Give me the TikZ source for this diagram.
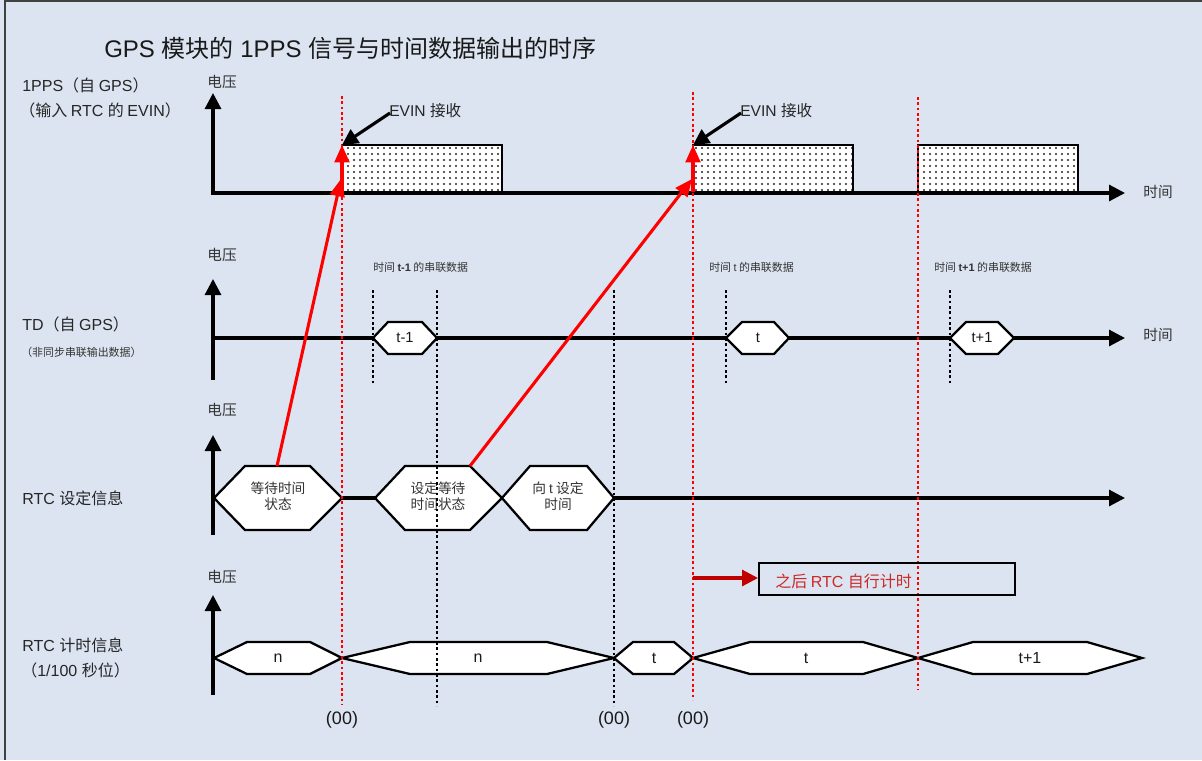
\documentclass[tikz,border=0pt]{standalone}
\usepackage{fontspec}
\setmainfont{Liberation Sans}
\newfontfamily\cjk{Noto Sans CJK SC}
\usetikzlibrary{arrows.meta,patterns.meta}
\definecolor{bg}{RGB}{219,228,240}
\definecolor{darkred}{RGB}{192,0,0}
\definecolor{txtred}{RGB}{205,40,40}
\newcommand{\zh}[1]{{\cjk #1}}
\newcommand{\fs}[2]{\fontsize{#1}{#2}\selectfont}
\newcommand{\hexg}[6]{\draw[hexs] (#1,#5) -- (#2,{#5-#6}) -- (#3,{#5-#6}) -- (#4,#5) -- (#3,{#5+#6}) -- (#2,{#5+#6}) -- cycle;}
\begin{document}
\begin{tikzpicture}[x=0.75pt,y=-0.75pt,
  tip/.style={-{Triangle[width=12pt,length=12pt]}},
  axisl/.style={line width=2.3pt,black},
  hexs/.style={line width=1.7pt,black,fill=white,line join=miter},
  reddot/.style={red,line width=2.2pt,dash pattern=on 2pt off 2pt},
  blkdot/.style={black,line width=2.2pt,dash pattern=on 2pt off 2pt},
  redarr/.style={red,line width=2.3pt,-{Triangle[width=11pt,length=13pt]}},
  blkarr/.style={black,line width=2.3pt,-{Triangle[width=12pt,length=12pt]}},
  lab/.style={anchor=west,inner sep=0pt,text=black!85,font=\fs{12}{14}},
  volt/.style={inner sep=0pt,text=black!80,font=\fs{11}{13}\cjk},
  small/.style={anchor=west,inner sep=0pt,text=black!80,font=\fs{8.2}{10}},
  htxt/.style={inner sep=0pt,text=black!80,align=center,font=\fs{10.3}{12}},
  ctxt/.style={inner sep=0pt,text=black!90,font=\fs{12}{14}},
]
\fill[bg] (0,0) rectangle (1202,760);
\useasboundingbox (0,0) rectangle (1202,760);
\draw[line width=1.5pt,black!75] (5,760) -- (5,1) -- (1202,1);

% title
\node[anchor=west,inner sep=0pt,text=black!90,font=\fs{18}{21}] (title) at (104,48)
  {GPS \zh{模块的} 1PPS \zh{信号与时间数据输出的时序}};

% left labels
\node[lab] (l1a) at (22,85) {1PPS\zh{（自 }GPS\zh{）}};
\node[lab] (l1b) at (19,110) {\zh{（输入 }RTC \zh{的 }EVIN\zh{）}};
\node[lab] (l2a) at (22,324) {TD\zh{（自 }GPS\zh{）}};
\node[small] (l2b) at (21,352) {\zh{（非同步串联输出数据）}};
\node[lab] (l3a) at (22,498) {RTC \zh{设定信息}};
\node[lab] (l4a) at (22,645) {RTC \zh{计时信息}};
\node[lab] (l4b) at (21,670) {\zh{（}1/100 \zh{秒位）}};

% voltage labels
\node[volt] (v1) at (222,82) {电压};
\node[volt] (v2) at (222,255) {电压};
\node[volt] (v3) at (222,410) {电压};
\node[volt] (v4) at (222,577) {电压};

% ---- panel 1: 1PPS
\foreach \a/\b in {342/502, 693/853, 918/1078}{
  \fill[white] (\a,145) rectangle (\b,193);
  \fill[pattern={Dots[distance=4.5pt,radius=0.9pt]},pattern color=black!85] (\a,145) rectangle (\b,193);
}
\draw[axisl,{Triangle[width=12pt,length=12pt]}-{Triangle[width=12pt,length=12pt]}] (213,93) -- (213,193) -- (1125,193);
\foreach \a/\b in {342/502, 693/853, 918/1078}{
  \draw[line width=1.7pt] (\a,193) -- (\a,145) -- (\b,145) -- (\b,193);
}
\node[anchor=center,inner sep=0pt,text=black!80,font=\fs{11}{13}\cjk] (tm1) at (1158,192) {时间};

% ---- panel 2: TD
\draw[axisl,tip] (213,380) -- (213,279);
\draw[axisl,tip] (213,338) -- (1125,338);
\node[anchor=center,inner sep=0pt,text=black!80,font=\fs{11}{13}\cjk] (tm2) at (1158,335) {时间};
\node[small] (s1) at (373,267) {\zh{时间 }\textbf{t-1}\zh{ 的串联数据}};
\node[small] (s2) at (709,267) {\zh{时间 }t\zh{ 的串联数据}};
\node[small] (s3) at (934,267) {\zh{时间 }\textbf{t+1}\zh{ 的串联数据}};
\hexg{373}{388}{422}{437}{338}{16}
\hexg{726}{742}{774}{789}{338}{16}
\hexg{950}{966}{998}{1014}{338}{16}
\node[ctxt,font=\fs{11}{13}] (d1) at (405,338) {t-1};
\node[ctxt,font=\fs{11}{13}] (d2) at (758,338) {t};
\node[ctxt,font=\fs{11}{13}] (d3) at (982,338) {t+1};

% ---- panel 3: RTC setting
\draw[axisl,tip] (213,535) -- (213,435);
\draw[axisl] (342,498) -- (375,498);
\draw[axisl,tip] (614,498) -- (1125,498);
\hexg{214}{245}{310}{342}{498}{32}
\hexg{375}{405}{470}{502}{498}{32}
\hexg{502}{530}{587}{614}{498}{32}
\node[htxt] (hA) at (278,496) {\zh{等待时间}\\\zh{状态}};
\node[htxt] (hB) at (438,496) {\zh{设定等待}\\\zh{时间状态}};
\node[htxt] (hC) at (558,496) {\zh{向 }t\zh{ 设定}\\\zh{时间}};
\coordinate (hAtop) at (277,466);
\coordinate (hBtop) at (470,466);

% ---- panel 4: RTC counter
\draw[axisl,tip] (213,695) -- (213,595);
\hexg{214}{247}{310}{342}{658}{16}
\hexg{342}{410}{547}{614}{658}{16}
\hexg{614}{633}{674}{693}{658}{16}
\hexg{693}{750}{863}{918}{658}{16}
\hexg{918}{973}{1087}{1142}{658}{16}
\node[ctxt] (c1) at (278,658) {n};
\node[ctxt] (c2) at (478,658) {n};
\node[ctxt] (c3) at (654,658) {t};
\node[ctxt] (c4) at (806,658) {t};
\node[ctxt] (c5) at (1030,658) {t+1};

% dotted lines
\draw[blkdot] (373,290) -- (373,384);
\draw[blkdot] (437,290) -- (437,706);
\draw[blkdot] (614,290) -- (614,706);
\draw[blkdot] (726,290) -- (726,384);
\draw[blkdot] (950,290) -- (950,384);
\draw[reddot] (342,96) -- (342,705);
\draw[reddot] (693,92) -- (693,700);
\draw[reddot] (918,97) -- (918,690);

% (00) labels
\node[ctxt,font=\fs{13.5}{15}] (z1) at (342,720) {(00)};
\node[ctxt,font=\fs{13.5}{15}] (z2) at (614,720) {(00)};
\node[ctxt,font=\fs{13.5}{15}] (z3) at (693,720) {(00)};

% red box
\node[draw=black,line width=1.7pt,minimum width=256*0.75pt,minimum height=32*0.75pt,inner sep=0pt,anchor=north west] (box) at (758,562) {};
\node[anchor=west,inner sep=0pt,text=txtred,font=\fs{12}{14}] (boxt) at (775,581) {\zh{之后 }RTC \zh{自行计时}};
\coordinate (rs) at (693,578);
\draw[darkred,line width=2.3pt,-{Triangle[width=12pt,length=12pt]}] (rs) -- (box.west |- rs);

% pulse corner points
\coordinate (p1) at (342,145);
\coordinate (p2) at (693,145);
\coordinate (b1) at (342,192);
\coordinate (b2) at (693,192);
\coordinate (e1) at (341,179);
\coordinate (e2) at (692,179);

% EVIN labels and arrows
\node[anchor=west,inner sep=0pt,text=black!85,font=\fs{11.7}{13}] (ev1) at (389,111) {EVIN \zh{接收}};
\node[anchor=west,inner sep=0pt,text=black!85,font=\fs{11.7}{13}] (ev2) at (740,111) {EVIN \zh{接收}};
\draw[blkarr] (ev1.west) ++(1,2) -- (p1);
\draw[blkarr] (ev2.west) ++(1,2) -- (p2);

% red arrows
\draw[redarr] (hAtop) -- (e1);
\draw[redarr] (hBtop) -- (e2);
\draw[redarr] (b1) -- (p1);
\draw[redarr] (b2) -- (p2);
\end{tikzpicture}
\end{document}
